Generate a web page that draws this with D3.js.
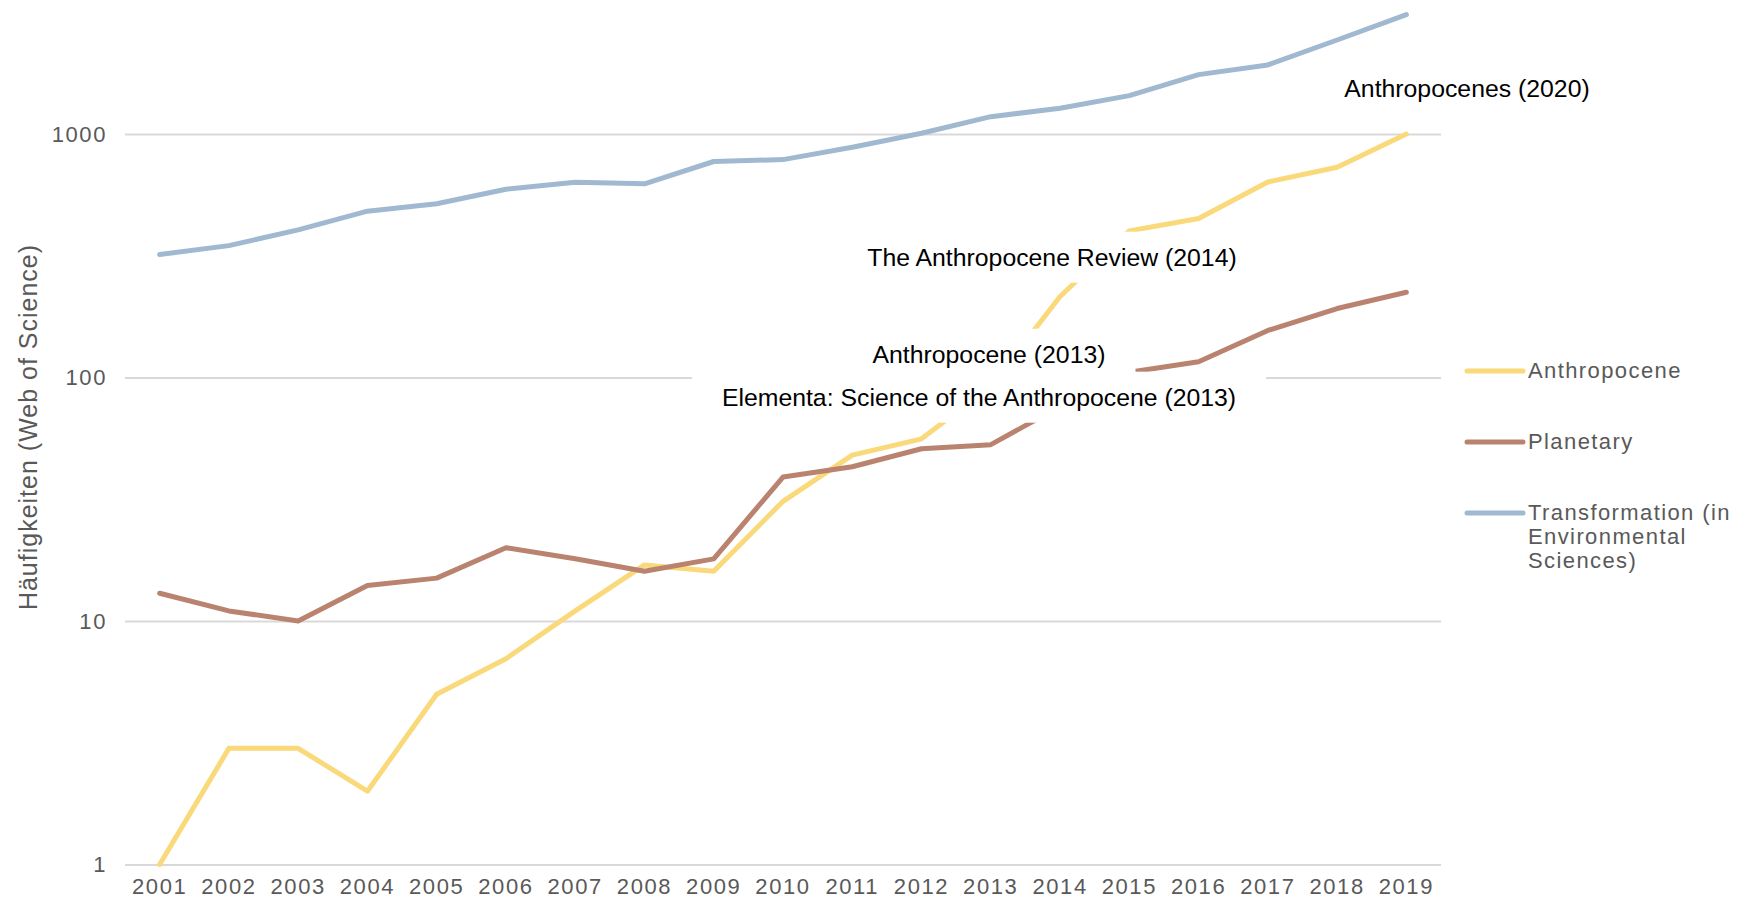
<!DOCTYPE html>
<html lang="de">
<head>
<meta charset="utf-8">
<style>
  body { margin: 0; background: #fff; }
  svg { display: block; font-family: "Liberation Sans", Arial, Helvetica, sans-serif; }
  .axis text { fill: #595959; font-size: 22px; letter-spacing: 1.6px; }
  .note { fill: #000; font-size: 24.8px; }
  .legend text { fill: #595959; font-size: 22px; letter-spacing: 1.4px; }
</style>
</head>
<body>
<svg width="1738" height="901"></svg>
<script src="https://cdn.jsdelivr.net/npm/d3@7"></script>
<script>
// values (log scale)
var years = ['2001','2002','2003','2004','2005','2006','2007','2008','2009','2010',
             '2011','2012','2013','2014','2015','2016','2017','2018','2019']
var anthropocene = [1, 3, 3, 2, 5, 7, 11, 17, 16, 31, 48, 56, 92, 215, 400, 450, 635, 730, 1000]
var planetary = [13, 11, 10, 14, 15, 20, 18, 16, 18, 39, 43, 51, 53, 76, 105, 116, 156, 192, 224]
var transformation = [320, 348, 404, 482, 517, 593, 634, 624, 771, 785, 882, 1007, 1178, 1275, 1438, 1753, 1922, 2432, 3090]
var yTicks = [1, 10, 100, 1000]
var seriesNames = ['Anthropocene', 'Planetary', 'Transformation (in Environmental Sciences)']
var legendLines = [['Anthropocene'], ['Planetary'], ['Transformation (in', 'Environmental', 'Sciences)']]
var colors = ['#FAD97A', '#B9836F', '#A0B9D0']
var notes = ['Anthropocenes (2020)', 'The Anthropocene Review (2014)', 'Anthropocene (2013)',
             'Elementa: Science of the Anthropocene (2013)']

var svg = d3.select('svg')
var plotL = 125, plotR = 1441, plotT = 134, plotB = 864.5

var x = d3.scaleBand().domain(years).range([plotL, plotR])
var y = d3.scaleLog().domain([1, 1000]).range([plotB, plotT])

// gridlines + y labels
var yAxis = svg.append('g')
    .attr('class', 'axis')
    .attr('transform', 'translate(' + plotL + ',0)')
    .call(d3.axisLeft(y).tickValues(yTicks).tickFormat(d3.format('d'))
      .tickSize(-(plotR - plotL)).tickPadding(18))
yAxis.select('.domain').remove()
yAxis.selectAll('line').attr('stroke', '#d9d9d9').attr('stroke-width', 2)

var xAxis = svg.append('g')
    .attr('class', 'axis')
    .attr('transform', 'translate(0,' + plotB + ')')
    .call(d3.axisBottom(x).tickSize(0).tickPadding(14))
xAxis.select('.domain').remove()

svg.append('text')
    .attr('transform', 'translate(37,427) rotate(-90)')
    .attr('text-anchor', 'middle')
    .attr('fill', '#595959')
    .style('font-size', '25px')
    .style('letter-spacing', '1px')
    .text('Häufigkeiten (Web of Science)')

var line = d3.line()
    .x(function (d, i) { return x(years[i]) + x.bandwidth() / 2 })
    .y(function (d) { return y(d) })

var allSeries = [anthropocene, planetary, transformation]
svg.append('g').selectAll('path')
  .data(allSeries)
  .enter().append('path')
    .attr('d', line)
    .attr('fill', 'none')
    .attr('stroke', function (d, i) { return colors[i] })
    .attr('stroke-width', 5)
    .attr('stroke-linecap', 'round')
    .attr('stroke-linejoin', 'round')

// text boxes with white fill (they hide parts of the lines)
var notePos = [[1467, 88], [1052, 257], [989, 354], [979, 397]]
var noteG = svg.append('g')
notes.forEach(function (t, i) {
  var g = noteG.append('g')
  var rect = g.append('rect').attr('fill', '#fff')
  var txt = g.append('text')
      .attr('class', 'note')
      .attr('x', notePos[i][0])
      .attr('y', notePos[i][1])
      .attr('dy', '0.35em')
      .attr('text-anchor', 'middle')
      .text(t)
  var b = txt.node().getBBox()
  rect.attr('x', b.x - 30).attr('y', b.y - 12)
      .attr('width', b.width + 60).attr('height', b.height + 24)
})

// legend
var legend = svg.append('g').attr('class', 'legend')
var legendY = [371, 442, 513]
seriesNames.forEach(function (name, i) {
  var g = legend.append('g').attr('transform', 'translate(1467,' + legendY[i] + ')')
  g.append('line')
      .attr('x1', 0).attr('x2', 56)
      .attr('stroke', colors[i])
      .attr('stroke-width', 5)
      .attr('stroke-linecap', 'round')
  var txt = g.append('text')
  legendLines[i].forEach(function (l, j) {
    txt.append('tspan').attr('x', 61).attr('dy', j === 0 ? '0.32em' : '1.1em').text(l)
  })
})
</script>
</body>
</html>
